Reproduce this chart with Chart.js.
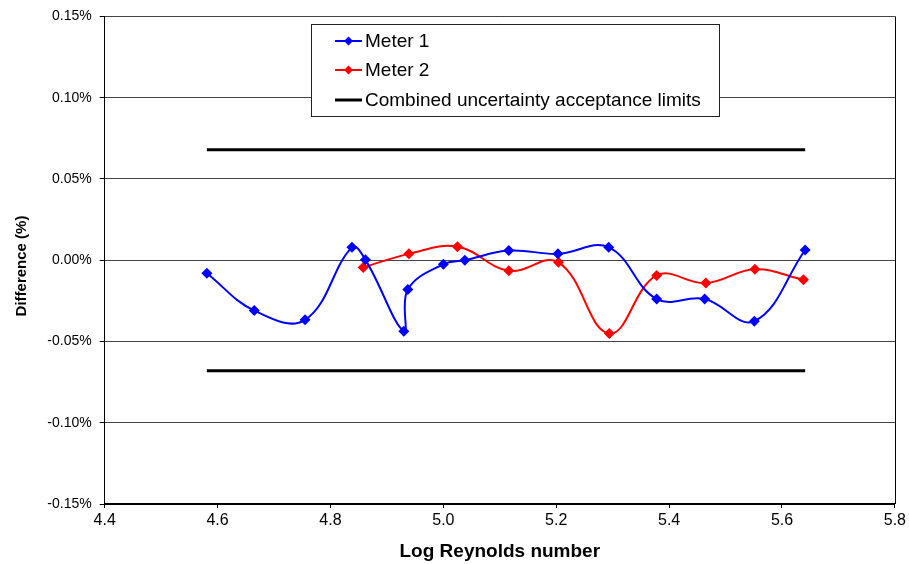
<!DOCTYPE html>
<html>
<head>
<meta charset="utf-8">
<script src="https://cdn.jsdelivr.net/npm/chart.js@4.4.1/dist/chart.umd.min.js"></script>
<style>
  html, body { margin: 0; padding: 0; background: #fff; }
  canvas { display: block; }
</style>
</head>
<body>
<canvas id="chart" width="909" height="564"></canvas>
<script>
// Meter 1: log Reynolds number and difference (%)
const meter1Re   = [4.581, 4.665, 4.755, 4.838, 4.862, 4.930, 4.937, 5.000, 5.038, 5.116, 5.203, 5.293, 5.378, 5.463, 5.551, 5.641];
const meter1Diff = [-0.0080, -0.0310, -0.0367, 0.0079, 0.0002, -0.0437, -0.0180, -0.0025, 0.0000, 0.0059, 0.0039, 0.0079, -0.0239, -0.0239, -0.0375, 0.0063];

// Meter 2: log Reynolds number and difference (%)
const meter2Re   = [4.858, 4.939, 5.025, 5.116, 5.204, 5.294, 5.378, 5.465, 5.552, 5.638];
const meter2Diff = [-0.0045, 0.0039, 0.0083, -0.0065, -0.0013, -0.0451, -0.0094, -0.0141, -0.0056, -0.0120];

// Combined uncertainty acceptance limits (±, in %)
const limitRe = [4.581, 5.641];
const limitValue = 0.068;

// Axis ticks
const xTicks = [4.4, 4.6, 4.8, 5.0, 5.2, 5.4, 5.6, 5.8];
const yTicks = [-0.15, -0.10, -0.05, 0.00, 0.05, 0.10, 0.15];

const seriesLabels = ['Meter 1', 'Meter 2', 'Combined uncertainty acceptance limits'];
const yTitle = 'Difference (%)';
const xTitle = 'Log Reynolds number';
const FONT = "'Liberation Sans', Arial, Helvetica, sans-serif";

const toPoints = (xs, ys) => xs.map((x, i) => ({ x: x, y: ys[i] }));

// Upper and lower limit lines as one dataset, broken by a gap
const limitPoints = [
  { x: limitRe[0], y: limitValue },
  { x: limitRe[1], y: limitValue },
  { x: limitRe[1], y: null },
  { x: limitRe[0], y: -limitValue },
  { x: limitRe[1], y: -limitValue }
];

// Boxed legend drawn inside the plot area
const boxLegend = {
  id: 'boxLegend',
  afterDraw(chart, args, opts) {
    const ctx = chart.ctx;
    const { left, top, width, height, rowY, lineX0, lineX1, textX } = opts;
    ctx.save();
    ctx.fillStyle = '#fff';
    ctx.fillRect(left, top, width, height);
    ctx.strokeStyle = '#222';
    ctx.lineWidth = 1;
    ctx.strokeRect(left + 0.5, top + 0.5, width, height);
    chart.data.datasets.forEach((ds, i) => {
      const y = rowY[i];
      ctx.strokeStyle = ds.borderColor;
      ctx.lineWidth = i === 2 ? 3 : 2;
      ctx.beginPath();
      ctx.moveTo(lineX0, y);
      ctx.lineTo(lineX1, y);
      ctx.stroke();
      if (ds.pointRadius > 0) {
        const cx = (lineX0 + lineX1) / 2, r = 4.5;
        ctx.fillStyle = ds.backgroundColor;
        ctx.beginPath();
        ctx.moveTo(cx, y - r);
        ctx.lineTo(cx + r, y);
        ctx.lineTo(cx, y + r);
        ctx.lineTo(cx - r, y);
        ctx.closePath();
        ctx.fill();
      }
      ctx.fillStyle = '#000';
      ctx.font = '19px ' + FONT;
      ctx.textAlign = 'left';
      ctx.textBaseline = 'middle';
      ctx.fillText(ds.label, textX, y + 1);
    });
    ctx.restore();
  }
};

// Right-hand border of the plot area and the vertical axis title
const plotFrame = {
  id: 'plotFrame',
  afterDraw(chart, args, opts) {
    const { ctx, chartArea } = chart;
    ctx.save();
    ctx.strokeStyle = '#000';
    ctx.lineWidth = 1;
    ctx.beginPath();
    ctx.moveTo(Math.round(chartArea.right) + 0.5, chartArea.top);
    ctx.lineTo(Math.round(chartArea.right) + 0.5, chartArea.bottom);
    ctx.stroke();

    ctx.translate(opts.titleX, opts.titleY);
    ctx.rotate(-Math.PI / 2);
    ctx.fillStyle = '#000';
    ctx.font = 'bold 15px ' + FONT;
    ctx.textAlign = 'center';
    ctx.textBaseline = 'middle';
    ctx.fillText(yTitle, 0, 0);
    ctx.restore();
  }
};

new Chart(document.getElementById('chart'), {
  type: 'line',
  data: {
    datasets: [
      {
        label: seriesLabels[0],
        data: toPoints(meter1Re, meter1Diff),
        borderColor: '#0000ff',
        backgroundColor: '#0000ff',
        borderWidth: 2,
        pointStyle: 'rectRot',
        pointRadius: 5.5,
        pointBorderWidth: 0,
        tension: 0.4
      },
      {
        label: seriesLabels[1],
        data: toPoints(meter2Re, meter2Diff),
        borderColor: '#ff0000',
        backgroundColor: '#ff0000',
        borderWidth: 2,
        pointStyle: 'rectRot',
        pointRadius: 5.5,
        pointBorderWidth: 0,
        tension: 0.4
      },
      {
        label: seriesLabels[2],
        data: limitPoints,
        borderColor: '#000000',
        backgroundColor: '#000000',
        borderWidth: 3,
        pointRadius: 0,
        tension: 0,
        spanGaps: false
      }
    ]
  },
  options: {
    responsive: false,
    animation: false,
    layout: { padding: { top: 13, right: 14, left: 0, bottom: 0 } },
    plugins: {
      legend: { display: false },
      tooltip: { enabled: false },
      boxLegend: {
        left: 311, top: 24, width: 408, height: 92,
        rowY: [41, 70, 100],
        lineX0: 335, lineX1: 362, textX: 365
      },
      plotFrame: { titleX: 22, titleY: 266 }
    },
    scales: {
      x: {
        type: 'linear',
        min: xTicks[0],
        max: xTicks[xTicks.length - 1],
        afterBuildTicks: (scale) => { scale.ticks = xTicks.map(v => ({ value: v })); },
        afterFit: (scale) => { scale.height = 60; },
        ticks: {
          color: '#000',
          font: { family: FONT, size: 16 },
          padding: 3,
          maxRotation: 0,
          callback: (v) => Number(v).toFixed(1)
        },
        grid: { drawOnChartArea: false, drawTicks: true, tickLength: 4, color: '#000' },
        border: { display: true, color: '#000', width: 2 },
        title: {
          display: true,
          text: xTitle,
          color: '#000',
          font: { family: FONT, size: 19, weight: 'bold' },
          padding: { top: 0, bottom: 1 }
        }
      },
      y: {
        type: 'linear',
        min: yTicks[0],
        max: yTicks[yTicks.length - 1],
        afterBuildTicks: (scale) => { scale.ticks = yTicks.map(v => ({ value: v })); },
        afterFit: (scale) => { scale.width = 104.7; },
        ticks: {
          color: '#000',
          font: { family: FONT, size: 14 },
          padding: 8,
          callback: (v) => (Math.abs(v) < 1e-9 ? 0 : v).toFixed(2) + '%'
        },
        grid: { color: '#444', lineWidth: 1, drawTicks: true, tickLength: 5, tickColor: '#000' },
        border: { display: true, color: '#000', width: 1 },
        title: { display: false }
      }
    }
  },
  plugins: [boxLegend, plotFrame]
});
</script>
</body>
</html>
